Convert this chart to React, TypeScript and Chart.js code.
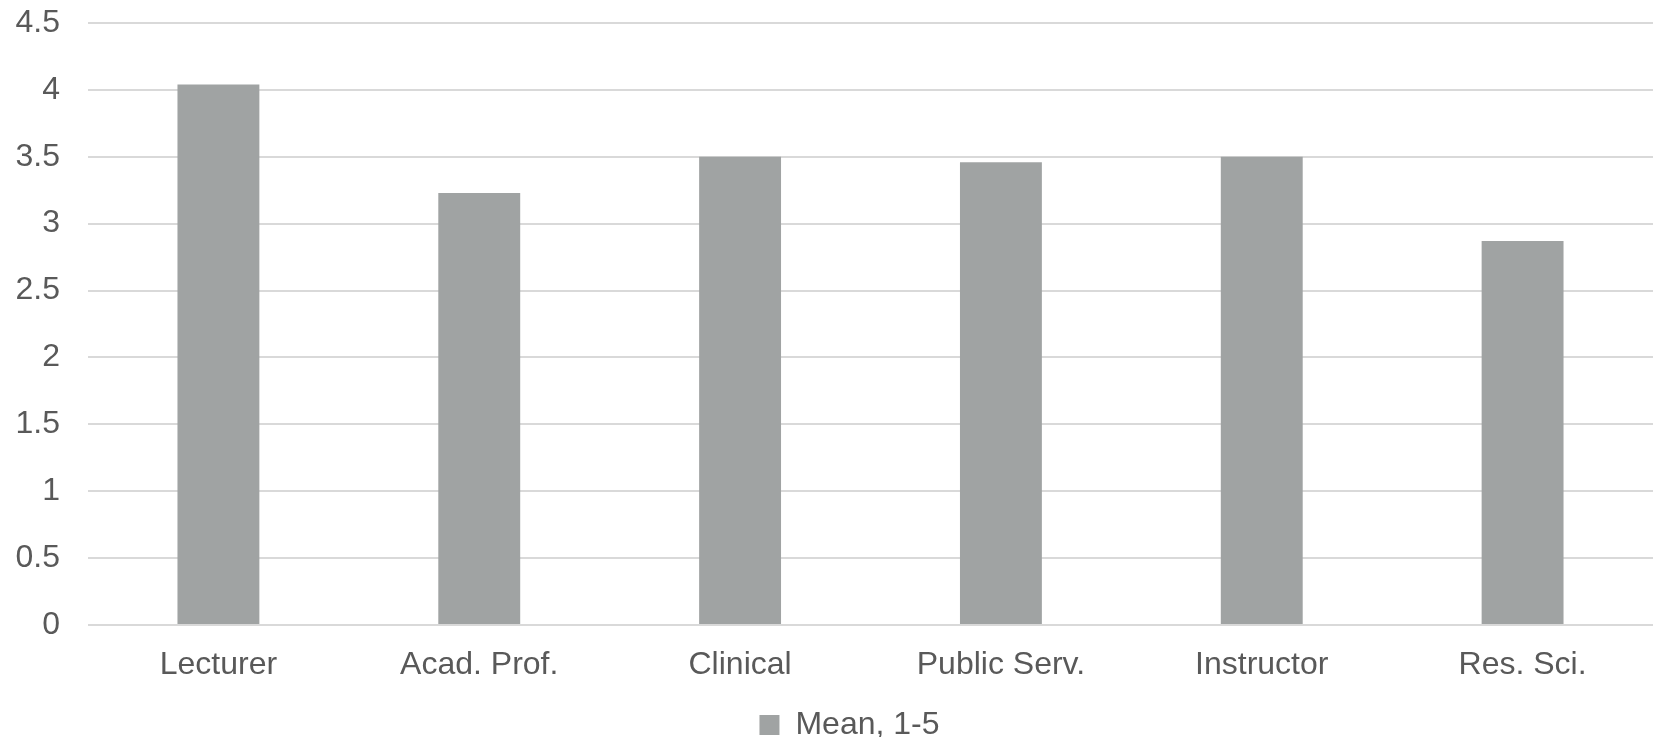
import React, { useEffect, useRef } from "react";
import { Chart, registerables } from "chart.js";

Chart.register(...registerables);

// Job categories and their mean rating on a 1–5 scale
const categories = ["Lecturer", "Acad. Prof.", "Clinical", "Public Serv.", "Instructor", "Res. Sci."];
const meanValues = [4.04, 3.23, 3.5, 3.46, 3.5, 2.87];
const seriesLabel = "Mean, 1-5";

const FONT = "'Liberation Sans', Arial, Helvetica, sans-serif";
const FONT_SIZE = 32;
const TEXT = "#595959";
const BAR = "#A0A3A3";
const GRID = "#D9D9D9";
const LEGEND_OFFSET = 23;

// Nudges the bottom legend a little to the right of the canvas centre
const legendShift = {
  id: "legendShift",
  afterUpdate(chart: any) {
    const lg = chart.legend;
    if (!lg) return;
    lg.left += LEGEND_OFFSET;
    lg.right += LEGEND_OFFSET;
    if (lg.legendHitBoxes) lg.legendHitBoxes.forEach((b: any) => (b.left += LEGEND_OFFSET));
  },
};

export default function App() {
  const canvasRef = useRef<HTMLCanvasElement | null>(null);

  useEffect(() => {
    document.body.style.margin = "0";
    const canvas = canvasRef.current;
    if (!canvas) return;
    const chart = new Chart(canvas, {
      type: "bar",
      data: {
        labels: categories,
        datasets: [
          {
            label: seriesLabel,
            data: meanValues,
            backgroundColor: BAR,
            borderWidth: 0,
            barPercentage: 0.314,
            categoryPercentage: 1,
          },
        ],
      },
      plugins: [legendShift],
      options: {
        animation: false,
        responsive: false,
        maintainAspectRatio: false,
        layout: { padding: { top: 23, left: 0, right: 0, bottom: -14 } },
        plugins: {
          tooltip: { enabled: false },
          legend: {
            position: "bottom",
            labels: {
              boxWidth: 20,
              boxHeight: 20,
              padding: 0,
              color: TEXT,
              font: { family: FONT, size: FONT_SIZE },
            },
          },
        },
        scales: {
          x: {
            grid: { display: false },
            border: { display: false },
            ticks: {
              color: TEXT,
              font: { family: FONT, size: FONT_SIZE },
              padding: 13,
              maxRotation: 0,
              autoSkip: false,
            },
            afterFit: (scale: any) => {
              scale.height = 84;
            },
          },
          y: {
            min: 0,
            max: 4.5,
            grid: { color: GRID, lineWidth: 2, drawTicks: false },
            border: { display: false },
            ticks: {
              stepSize: 0.5,
              color: TEXT,
              font: { family: FONT, size: FONT_SIZE },
              padding: 28,
              callback: (v: any) => String(Number(v)),
            },
            afterFit: (scale: any) => {
              scale.width = 88;
              scale.paddingTop = 0;
              scale.paddingBottom = 0;
            },
          },
        },
      },
    });
    return () => chart.destroy();
  }, []);

  return (
    <div style={{ width: 1653, height: 737 }}>
      <canvas ref={canvasRef} width={1653} height={737} style={{ display: "block" }} />
    </div>
  );
}
